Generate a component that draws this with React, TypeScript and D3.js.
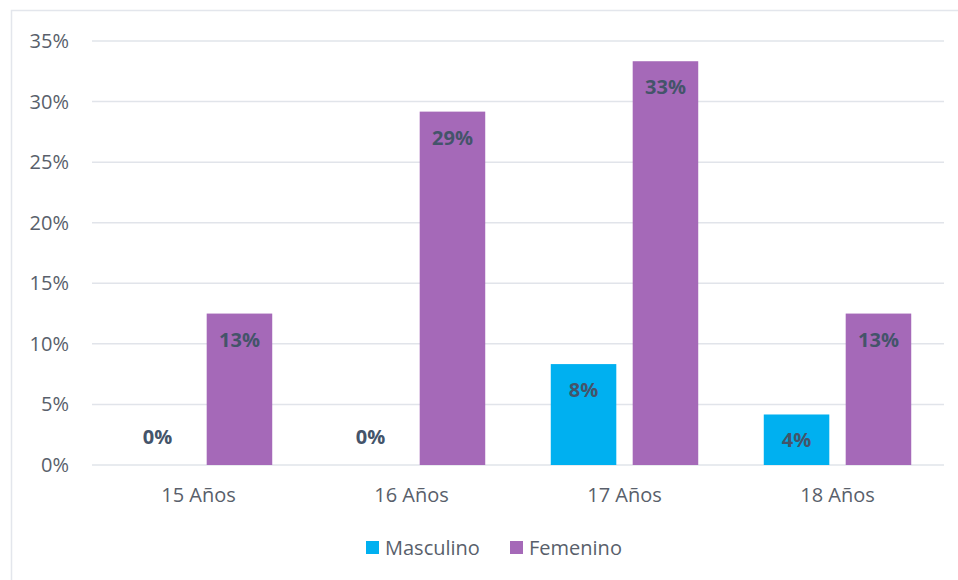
import React, { useEffect, useRef } from 'react';
import * as d3 from 'd3';

const categories = ['15 Años', '16 Años', '17 Años', '18 Años'];
const seriesNames = ['Masculino', 'Femenino'];
const masculino = [0, 0, 0.0833, 0.0417];
const femenino = [0.125, 0.2917, 0.3333, 0.125];
const yTicks = [0, 0.05, 0.1, 0.15, 0.2, 0.25, 0.3, 0.35];
const colors = ['#00B0F0', '#A569B8'];

export default function App() {
  const svgRef = useRef<SVGSVGElement>(null);

  useEffect(() => {
    if (!svgRef.current) return;
    const svg = d3.select(svgRef.current);
    svg.selectAll('*').remove();

    const font = '"Open Sans", "Noto Sans", sans-serif';
    const left = 92, right = 944, top = 41, bottom = 465;

    // chart frame (only top/left edges visible)
    svg.append('path')
      .attr('d', 'M11.5,580 L11.5,10.5 L958,10.5')
      .attr('fill', 'none')
      .attr('stroke', '#E3E6EC')
      .attr('stroke-width', 1.5);

    const x = d3.scaleBand().domain(categories).range([left, right]);
    const inner = d3.scaleBand().domain(seriesNames).range([0, x.bandwidth()]).paddingInner(0.2).paddingOuter(0.4);
    const y = d3.scaleLinear().domain([0, 0.35]).range([bottom, top]);

    const g = svg.append('g');
    g.selectAll('line.grid')
      .data(yTicks)
      .enter()
      .append('line')
      .attr('x1', left)
      .attr('x2', right)
      .attr('y1', d => y(d))
      .attr('y2', d => y(d))
      .attr('stroke', '#E1E4EA')
      .attr('stroke-width', 1.5);

    g.selectAll('text.ytick')
      .data(yTicks)
      .enter()
      .append('text')
      .attr('x', 69)
      .attr('y', d => y(d))
      .attr('dy', '0.35em')
      .attr('text-anchor', 'end')
      .attr('font-family', font)
      .attr('font-size', 20)
      .attr('fill', '#595F6B')
      .text(d => d3.format('.0%')(d));

    g.selectAll('text.xtick')
      .data(categories)
      .enter()
      .append('text')
      .attr('x', d => x(d)! + x.bandwidth() / 2)
      .attr('y', 495)
      .attr('dy', '0.35em')
      .attr('text-anchor', 'middle')
      .attr('font-family', font)
      .attr('font-size', 20)
      .attr('fill', '#595F6B')
      .text(d => d);

    const rows = categories.flatMap((c, i) => [
      { cat: c, s: seriesNames[0], v: masculino[i], color: colors[0] },
      { cat: c, s: seriesNames[1], v: femenino[i], color: colors[1] },
    ]);

    g.selectAll('rect.bar')
      .data(rows)
      .enter()
      .append('rect')
      .attr('x', d => x(d.cat)! + inner(d.s)!)
      .attr('y', d => y(d.v))
      .attr('width', inner.bandwidth())
      .attr('height', d => bottom - y(d.v))
      .attr('fill', d => d.color);

    g.selectAll('text.label')
      .data(rows)
      .enter()
      .append('text')
      .attr('x', d => x(d.cat)! + inner(d.s)! + inner.bandwidth() / 2)
      .attr('y', d => (d.v === 0 ? bottom - 28 : y(d.v) + 26))
      .attr('dy', '0.35em')
      .attr('text-anchor', 'middle')
      .attr('font-family', font)
      .attr('font-size', 20)
      .attr('font-weight', 'bold')
      .attr('fill', '#44546A')
      .text(d => d3.format('.0%')(d.v));

    const legend = svg.append('g');
    const legendX = [366, 510];
    seriesNames.forEach((s, i) => {
      legend.append('rect')
        .attr('x', legendX[i])
        .attr('y', 541)
        .attr('width', 13)
        .attr('height', 13)
        .attr('fill', colors[i]);
      legend.append('text')
        .attr('x', legendX[i] + 19)
        .attr('y', 548)
        .attr('dy', '0.35em')
        .attr('font-family', font)
        .attr('font-size', 20)
        .attr('fill', '#595F6B')
        .text(s);
    });
  }, []);

  return (
    <div style={{ position: 'absolute', left: 0, top: 0 }}>
      <svg ref={svgRef} width={958} height={580} style={{ display: 'block', background: '#fff' }} />
    </div>
  );
}
